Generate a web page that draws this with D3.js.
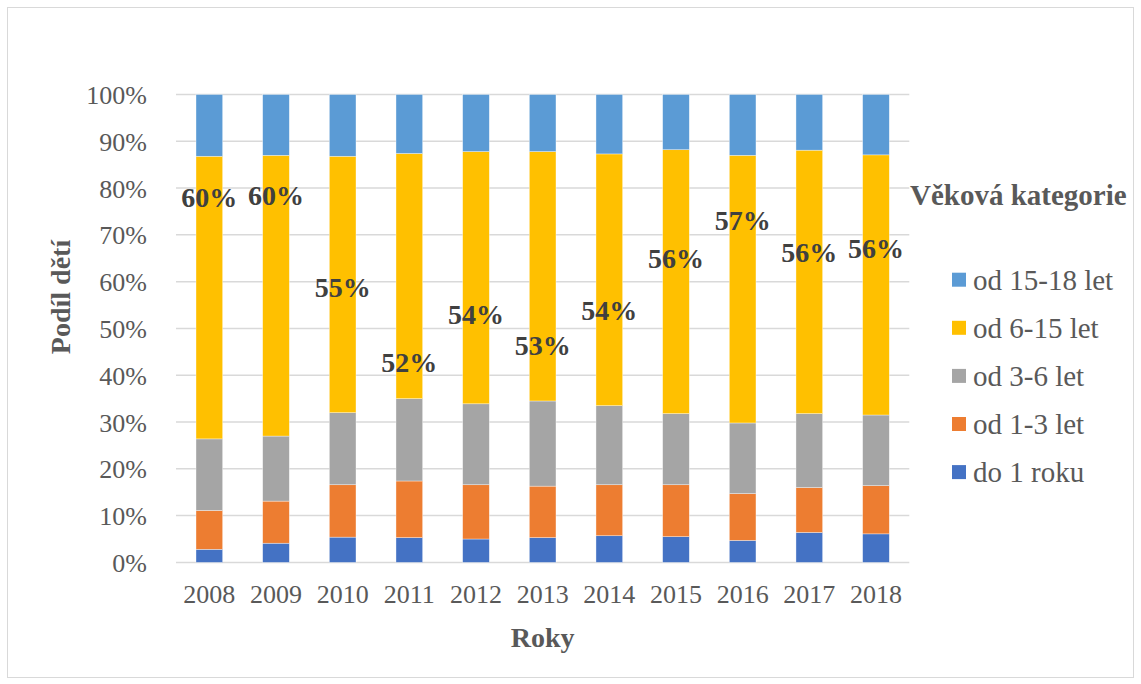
<!DOCTYPE html>
<html lang="cs">
<head>
<meta charset="utf-8">
<title>Podíl dětí podle věkové kategorie</title>
<script src="https://cdn.jsdelivr.net/npm/d3@7"></script>
<style>
  html, body { margin: 0; padding: 0; background: #fff; }
  svg, svg text { font-family: "Liberation Serif", "Times New Roman", Tinos, "DejaVu Serif", serif !important; }
</style>
</head>
<body>
<svg id="chart" width="1141" height="684"></svg>
<script>
// Years on the category axis
const years = ["2008", "2009", "2010", "2011", "2012", "2013", "2014", "2015", "2016", "2017", "2018"];

// Share of children (%) in each age group, bottom to top of the stack
const do1roku   = [2.8, 4.1, 5.4, 5.3, 5.0, 5.3, 5.7, 5.5, 4.7, 6.4, 6.1];
const od1do3    = [8.3, 9.0, 11.2, 12.1, 11.6, 11.0, 10.9, 11.1, 10.0, 9.6, 10.3];
const od3do6    = [15.3, 13.9, 15.4, 17.6, 17.3, 18.2, 16.9, 15.2, 15.1, 15.8, 15.1];
const od6do15   = [60.4, 60.0, 54.8, 52.4, 53.9, 53.3, 53.8, 56.4, 57.2, 56.3, 55.6];
const od15do18  = [13.2, 13.0, 13.2, 12.6, 12.2, 12.2, 12.7, 11.8, 13.0, 11.9, 12.9];

// Series names and colours
const seriesNames = ["do 1 roku", "od 1-3 let", "od 3-6 let", "od 6-15 let", "od 15-18 let"];
const seriesColors = ["#4472C4", "#ED7D31", "#A5A5A5", "#FFC000", "#5B9BD5"];

// Y axis ticks
const yTicks = [0, 10, 20, 30, 40, 50, 60, 70, 80, 90, 100];

// Height (on the % axis) at which each 6-15 label sits
const labelLevel = [78.1, 78.5, 58.8, 42.8, 53.1, 46.5, 53.9, 65.0, 73.2, 66.2, 67.1];

const seriesValues = [do1roku, od1do3, od3do6, od6do15, od15do18];
const rows = years.map((y, i) => {
  const r = { year: y };
  seriesNames.forEach((n, s) => { r[n] = seriesValues[s][i]; });
  return r;
});

const svg = d3.select("#chart");
const W = 1141, H = 684;
const plot = { left: 176, right: 909.3, top: 94.5, bottom: 562.4 };

// Outer chart border
svg.append("rect")
  .attr("x", 7.5).attr("y", 7.5)
  .attr("width", W - 15).attr("height", H - 14)
  .attr("fill", "#fff").attr("stroke", "#D9D9D9").attr("stroke-width", 1);

const x = d3.scaleBand().domain(years).range([plot.left, plot.right]).paddingInner(0.6).paddingOuter(0.3);
const y = d3.scaleLinear().domain([0, 100]).range([plot.bottom, plot.top]);

// Gridlines
svg.append("g")
  .selectAll("line")
  .data(yTicks)
  .join("line")
  .attr("x1", plot.left).attr("x2", plot.right)
  .attr("y1", d => y(d)).attr("y2", d => y(d))
  .attr("stroke", "#D9D9D9").attr("stroke-width", 1.5);

// Y axis tick labels
const yAxis = d3.axisLeft(y).tickValues(yTicks).tickFormat(d => d + "%").tickSize(0).tickPadding(29);
const gy = svg.append("g").attr("transform", `translate(${plot.left},0)`).call(yAxis);
gy.attr("font-family", null);
gy.select(".domain").remove();
gy.selectAll("text")
  .attr("font-size", 26).attr("fill", "#595959").attr("dy", "0.35em");

// X axis tick labels
const xAxis = d3.axisBottom(x).tickSize(0).tickPadding(22);
const gx = svg.append("g").attr("transform", `translate(0,${plot.bottom})`).call(xAxis);
gx.attr("font-family", null);
gx.select(".domain").remove();
gx.selectAll("text")
  .attr("font-size", 26).attr("fill", "#595959").attr("dy", "0.71em");

// Stacked bars
const stack = d3.stack().keys(seriesNames);
const layers = stack(rows);

svg.append("g")
  .selectAll("g")
  .data(layers)
  .join("g")
  .attr("fill", (d, i) => seriesColors[i])
  .selectAll("rect")
  .data(d => d)
  .join("rect")
  .attr("x", d => x(d.data.year))
  .attr("width", x.bandwidth())
  .attr("y", d => y(d[1]))
  .attr("height", d => y(d[0]) - y(d[1]))
  .attr("stroke", "#fff").attr("stroke-width", 0.6).attr("stroke-opacity", 0.6);

// Value labels for the 6-15 group
svg.append("g")
  .selectAll("text")
  .data(years)
  .join("text")
  .attr("x", (d) => x(d) + x.bandwidth() / 2)
  .attr("y", (d, i) => y(labelLevel[i]))
  .attr("dy", "0.35em")
  .attr("text-anchor", "middle")
  .attr("font-size", 28).attr("font-weight", "bold").attr("fill", "#404040")
  .text((d, i) => Math.round(od6do15[i]) + "%");

// Axis titles
svg.append("text")
  .attr("transform", `translate(70,297) rotate(-90)`)
  .attr("text-anchor", "middle")
  .attr("font-size", 28).attr("font-weight", "bold").attr("fill", "#595959")
  .text("Podíl dětí");

svg.append("text")
  .attr("x", (plot.left + plot.right) / 2).attr("y", 647)
  .attr("text-anchor", "middle")
  .attr("font-size", 28).attr("font-weight", "bold").attr("fill", "#595959")
  .text("Roky");

// Legend
const legend = svg.append("g");
legend.append("text")
  .attr("x", 910).attr("y", 205)
  .attr("font-size", 29).attr("font-weight", "bold").attr("fill", "#595959")
  .text("Věková kategorie");

const legendOrder = d3.range(seriesNames.length).reverse();
const item = legend.selectAll("g.item")
  .data(legendOrder)
  .join("g")
  .attr("class", "item")
  .attr("transform", (d, k) => `translate(952,${279.7 + k * 48.1})`);
item.append("rect")
  .attr("x", 0).attr("y", -7).attr("width", 14).attr("height", 14)
  .attr("fill", d => seriesColors[d]);
item.append("text")
  .attr("x", 21).attr("y", 0).attr("dy", "0.35em")
  .attr("font-size", 29).attr("fill", "#595959")
  .text(d => seriesNames[d]);
</script>
</body>
</html>
